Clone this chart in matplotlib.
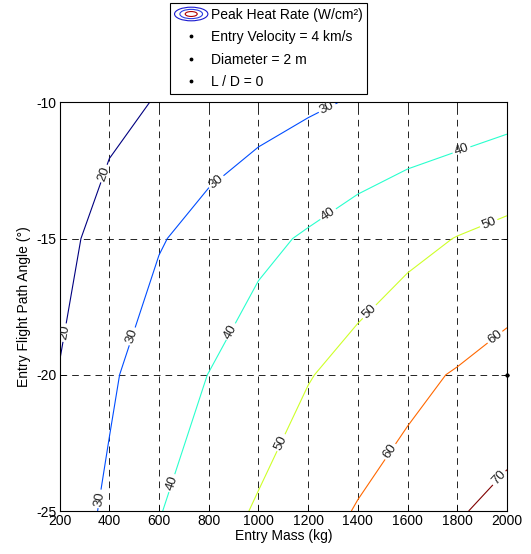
import numpy as np
import matplotlib
matplotlib.use("Agg")
import matplotlib.pyplot as plt
from matplotlib.legend_handler import HandlerBase
from matplotlib.patches import Ellipse

plt.rcParams['font.family'] = ['Liberation Sans', 'DejaVu Sans']
plt.rcParams['axes.unicode_minus'] = False

# peak heat rate (W/cm^2) on the mass / flight path angle grid
mass = [200, 400, 600, 800, 1000, 1200, 1400, 1600, 1800, 2000]
angle = [-25, -20, -15, -10]
heat_rate = [
    [23.5, 32.0, 39.5, 46.2, 50.9, 56.0, 60.6, 63.3, 69.2, 72.7],
    [20.5, 28.3, 36.5, 40.1, 44.9, 49.5, 53.4, 58.0, 60.6, 63.8],
    [15.4, 26.1, 29.1, 34.5, 37.8, 41.0, 44.4, 47.3, 50.3, 52.8],
    [11.0, 15.7, 21.0, 22.4, 26.2, 28.6, 30.9, 33.0, 34.2, 36.1],
]
levels = [20, 30, 40, 50, 60, 70]

# where the contour labels sit
label_pos = [(374, -12.6), (218, -18.45),
             (784, -12.4), (1287, -10.4), (495, -18.6), (358, -24.55),
             (1283, -14.14), (1817, -11.75), (892, -18.43), (660, -24.0),
             (1448, -17.7), (1093, -22.5), (1927, -14.45),
             (1950, -18.6), (1535, -22.85),
             (1970, -23.8)]

legend_notes = ['Entry Velocity = 4 km/s', 'Diameter = 2 m', 'L / D = 0']


class ContourIcon(HandlerBase):
    # little nested-ellipse symbol for the contour entry
    def create_artists(self, legend, orig_handle, xdescent, ydescent,
                       width, height, fontsize, trans):
        cx = width / 2 - xdescent
        cy = height / 2 - ydescent
        out = []
        for s, c in [(1.0, '#1a1ad0'), (0.68, '#2b3fe0'), (0.36, '#b00000')]:
            out.append(Ellipse((cx, cy), width * s, height * 1.4 * s,
                               fill=False, edgecolor=c, lw=0.8,
                               transform=trans))
        return out


fig = plt.figure(figsize=(5.31, 5.54), dpi=100)
ax = fig.add_axes([0.1122, 0.0776, 0.8426, 0.7377])

X, Y = np.meshgrid(mass, angle)
Z = np.array(heat_rate)
cs = ax.contour(X, Y, Z, levels=levels, cmap='jet', linewidths=0.8)
ax.clabel(cs, fmt='%d', fontsize=9.5, colors='#222222', manual=label_pos,
          inline_spacing=2)

ax.set_xlim(200, 2000)
ax.set_ylim(-25, -10)
ax.set_xticks(mass)
ax.set_yticks([-25, -20, -15, -10])
ax.tick_params(direction='in', length=4, width=0.6, labelsize=10,
               top=True, right=True, pad=2)
ax.grid(True, color='k', linestyle=(0, (8, 6)), linewidth=0.6)
for sp in ax.spines.values():
    sp.set_linewidth(0.8)

ax.set_xlabel('Entry Mass (kg)', fontsize=10, labelpad=1)
ax.set_ylabel('Entry Flight Path Angle (°)', fontsize=10, labelpad=4)

# dummy points carrying the legend notes
dots = []
for note in legend_notes:
    d, = ax.plot([2000], [-20], 'k.', ms=3.5, clip_on=False, label=note)
    dots.append(d)

icon = object()
leg = fig.legend([icon] + dots,
                 ['Peak Heat Rate (W/cm²)'] + legend_notes,
                 handler_map={icon: ContourIcon()},
                 loc='upper center', bbox_to_anchor=(0.5056, 1 - 3 / 554),
                 fontsize=10, frameon=True, fancybox=False, framealpha=1,
                 edgecolor='k', handlelength=2.4, handletextpad=0.2,
                 labelspacing=0.6, borderpad=0.35, borderaxespad=0)
leg.get_frame().set_linewidth(0.8)

fig.savefig('out.png', dpi=100)
